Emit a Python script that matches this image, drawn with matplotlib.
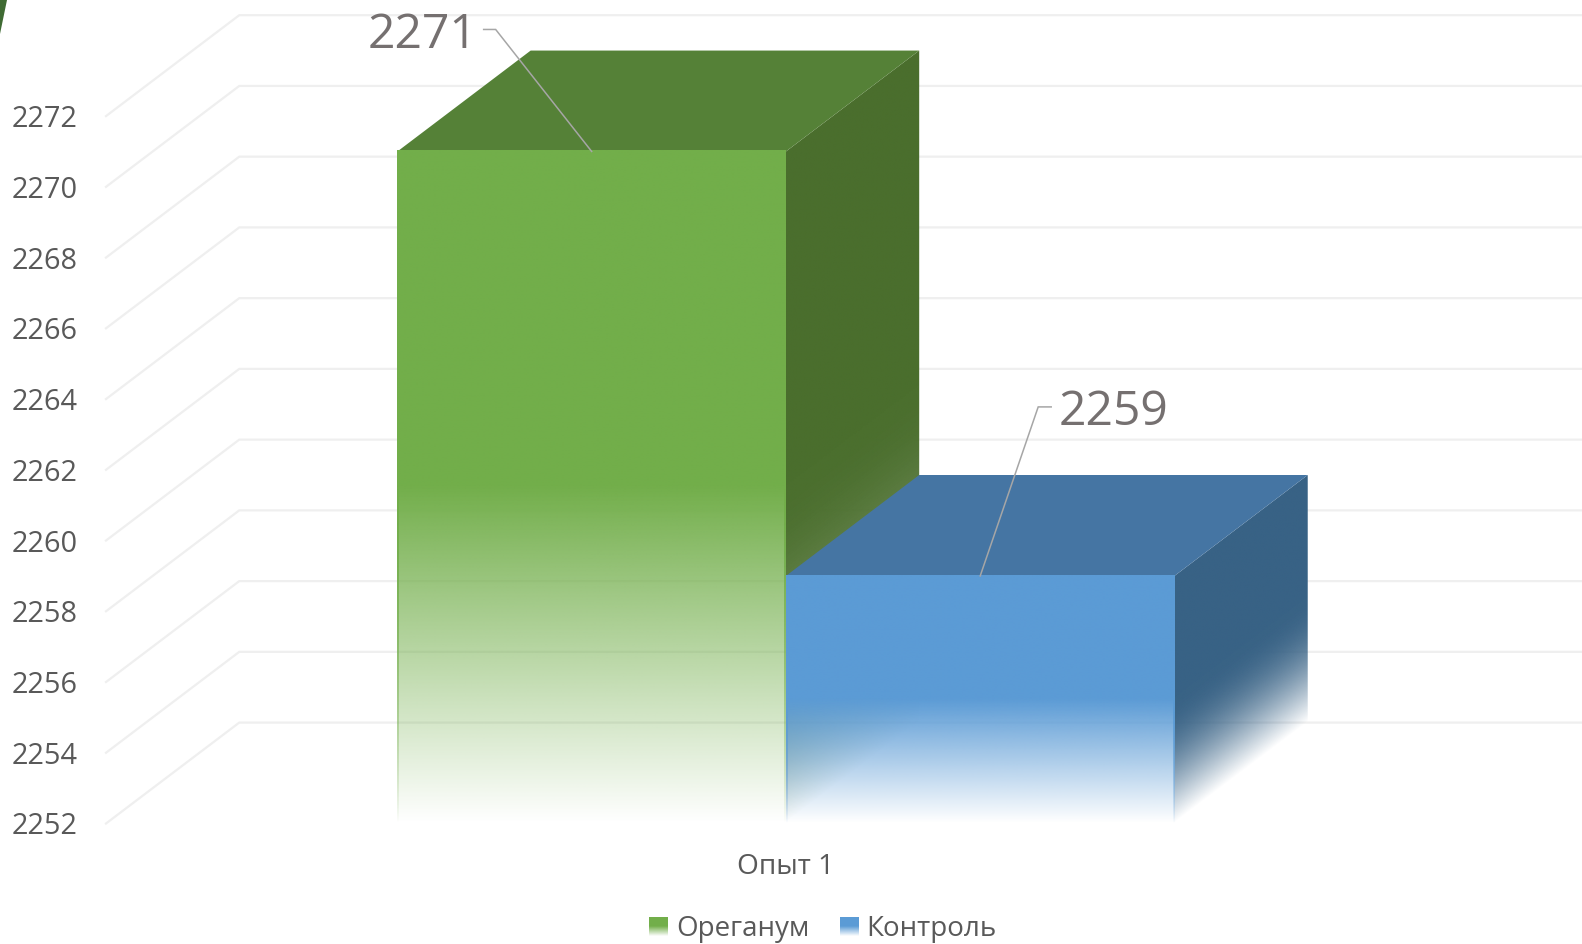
import numpy as np
import matplotlib
matplotlib.use("Agg")
from matplotlib import pyplot as plt
from matplotlib.colors import to_rgb
from matplotlib.legend_handler import HandlerBase
from matplotlib.patches import Polygon, Rectangle

categories = ["Опыт 1"]
series_names = ["Ореганум", "Контроль"]
series_values = [2271, 2259]
y_ticks = [2252, 2254, 2256, 2258, 2260, 2262, 2264, 2266, 2268, 2270, 2272]

front_colors = ["#72ae4a", "#5b9bd5"]
top_colors = ["#558137", "#4575a3"]
side_colors = ["#4a6e2d", "#386285"]
text_color = "#595959"
label_color = "#757070"
leader_color = "#a6a6a6"
grid_color = "#efefef"

# size of the fake 3d box, in axis units
depth_x = 0.343
depth_y = 2.853
bar_width = 1.0
y_base = y_ticks[0]

plt.rcParams["font.family"] = ["Open Sans", "DejaVu Sans"]

fig = plt.figure(figsize=(15.82, 9.44), dpi=100)
ax = fig.add_axes([106 / 1582, (944 - 823.5) / 944, (1582 - 106) / 1582, 823.5 / 944])
ax.set_facecolor("none")

grid_left = -1.75
ax.set_xlim(grid_left, (1582 - 786) / 388.5)
ax.set_ylim(y_base, y_base + 823.5 / 35.37)
ax.autoscale(False)


def gradient_image(color, fade):
    # fade is an array of alpha values
    img = np.zeros(fade.shape + (4,))
    img[..., :3] = to_rgb(color)
    img[..., 3] = fade
    return img


def draw_bar(x0, value, front, top, side, z):
    x1 = x0 + bar_width
    height = value - y_base
    mid = height * 0.5

    # top face
    ax.add_patch(Polygon([(x0, value), (x1, value), (x1 + depth_x, value + depth_y),
                          (x0 + depth_x, value + depth_y)],
                         closed=True, facecolor=top, edgecolor="none", zorder=z + 1))

    # side face, the fade follows the slant of the face
    xs = np.linspace(0, 1, 240)
    ys = np.linspace(y_base, value + depth_y, 500)
    xx, yy = np.meshgrid(xs, ys)
    h = yy - y_base - xx * depth_y
    fade = np.sin(np.clip(h / mid, 0, 1) * np.pi / 2)
    im = ax.imshow(gradient_image(side, fade), origin="lower", aspect="auto",
                   extent=(x1, x1 + depth_x, y_base, value + depth_y),
                   interpolation="bilinear", zorder=z)
    side_poly = Polygon([(x1, y_base), (x1 + depth_x, y_base + depth_y),
                         (x1 + depth_x, value + depth_y), (x1, value)],
                        closed=True, transform=ax.transData)
    im.set_clip_path(side_poly)

    # front face
    ys = np.linspace(y_base, value, 500)
    fade = np.clip((ys - y_base) / mid, 0, 1).reshape(-1, 1)
    ax.imshow(gradient_image(front, fade), origin="lower", aspect="auto",
              extent=(x0, x1, y_base, value),
              interpolation="bilinear", zorder=z + 2)

    # thin edges stay a bit stronger than the face in the faded part
    edge = 0.004
    for left in [x0, x1 - edge]:
        ax.imshow(gradient_image(front, fade ** 0.8), origin="lower", aspect="auto",
                  extent=(left, left + edge, y_base, value),
                  interpolation="bilinear", zorder=z + 2)


# grid, slanted floor part then the back wall
for tick in y_ticks:
    ax.plot([grid_left, grid_left + depth_x, 2.1], [tick, tick + depth_y, tick + depth_y],
            color=grid_color, lw=1.6, solid_joinstyle="miter", zorder=1, clip_on=False)

draw_bar(-bar_width, series_values[0], front_colors[0], top_colors[0], side_colors[0], 2)
draw_bar(0, series_values[1], front_colors[1], top_colors[1], side_colors[1], 5)

# data labels with leader lines, offsets in pixels from the middle of the bar top
label_setup = [
    (-0.5, series_values[0], (-96, 122), (-108, 122), (-114, 116), "right"),
    (0.5, series_values[1], (58, 169), (71, 169), (78, 164), "left"),
]
inv = ax.transData.inverted()
for x, value, elbow, end, text_pos, align in label_setup:
    x_pix, y_pix = ax.transData.transform((x, value))
    p1 = inv.transform((x_pix + elbow[0], y_pix + elbow[1]))
    p2 = inv.transform((x_pix + end[0], y_pix + end[1]))
    ax.plot([x, p1[0], p2[0]], [value, p1[1], p2[1]], color=leader_color, lw=1.1,
            solid_joinstyle="miter", zorder=12)
    ax.annotate(str(value), xy=(x, value), xytext=text_pos, textcoords="offset pixels",
                ha=align, va="center", fontsize=34.6, color=label_color, zorder=13)

ax.set_yticks(y_ticks)
ax.set_xticks([0])
ax.set_xticklabels(categories)
ax.tick_params(axis="y", length=0, pad=20.5, labelsize=20.8, labelcolor=text_color)
ax.tick_params(axis="x", length=0, pad=21, labelsize=20.2, labelcolor=text_color)
for spine in ax.spines.values():
    spine.set_visible(False)


class FadeHandler(HandlerBase):
    def create_artists(self, legend, orig_handle, xdescent, ydescent, width, height, fontsize, trans):
        pieces = []
        n = 20
        size = width
        x0 = xdescent
        y0 = ydescent + (height - size) / 2
        for i in range(n):
            share = (i + 0.5) / n
            alpha = min(1.0, share * 2)
            pieces.append(Rectangle((x0, y0 + size * i / n), size, size / n * 1.05,
                                    facecolor=orig_handle.get_facecolor()[:3], edgecolor="none",
                                    alpha=alpha, transform=trans))
        return pieces


handles = [Rectangle((0, 0), 1, 1, facecolor=c) for c in front_colors]
fig.legend(handles, series_names, loc="center", bbox_to_anchor=(823 / 1582, 1 - 929 / 944),
           ncol=2, frameon=False, fontsize=20, labelcolor=text_color,
           handler_map={Rectangle: FadeHandler()}, handlelength=0.7, handletextpad=0.27,
           columnspacing=1.1, borderpad=0)

# dark sliver left in the top corner of the picture
fig.add_artist(Polygon([(0, 1), (7 / 1582, 1), (0, 1 - 34 / 944)], closed=True,
                       facecolor="#3f6b33", edgecolor="none", transform=fig.transFigure))

fig.savefig("out.png", dpi=100)
